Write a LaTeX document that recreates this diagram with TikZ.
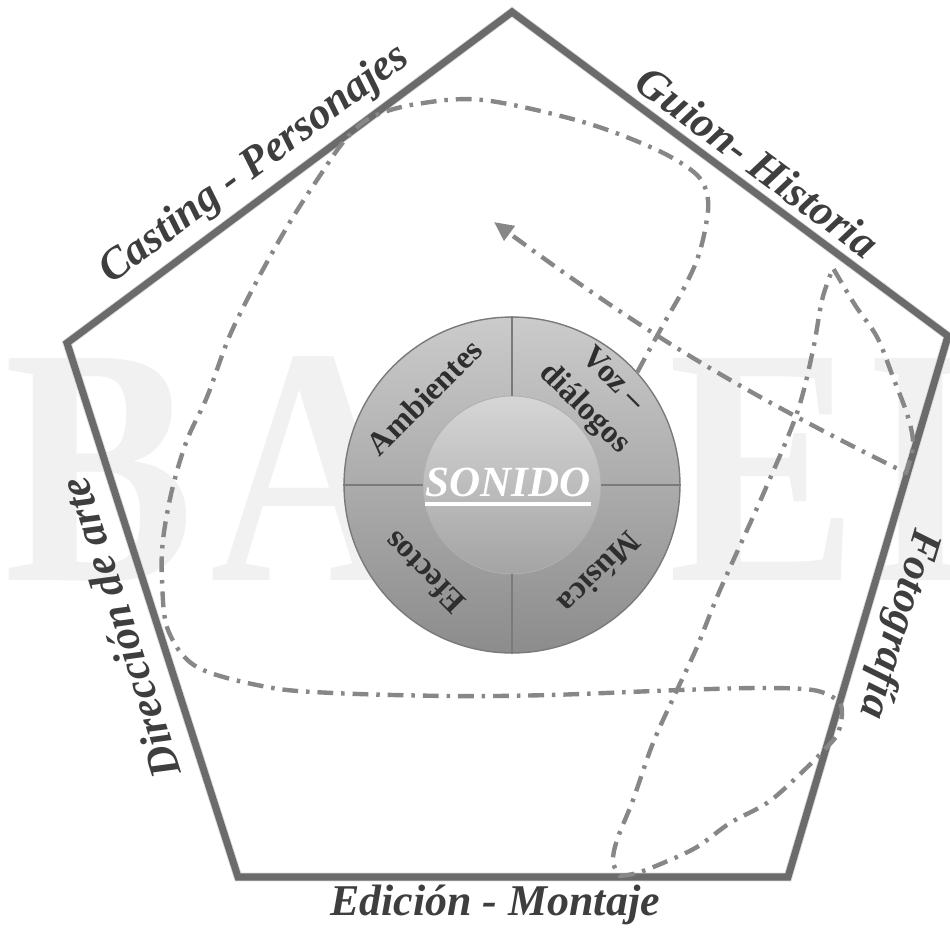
\documentclass[tikz,border=0pt]{standalone}
\usepackage{fontspec}
\setmainfont{Liberation Serif}
\usetikzlibrary{arrows.meta}
\definecolor{edgec}{HTML}{6B6B6B}
\definecolor{flowc}{HTML}{878787}
\definecolor{labelc}{HTML}{3E3E3E}
\definecolor{segc}{HTML}{2E2E2E}
\definecolor{wmc}{HTML}{F1F1F1}
\definecolor{ringtop}{HTML}{CBCBCB}
\definecolor{ringbot}{HTML}{8C8C8C}
\definecolor{coretop}{HTML}{D6D6D6}
\definecolor{corebot}{HTML}{A4A4A4}
\definecolor{divc}{HTML}{7A7A7A}
\definecolor{shadc}{HTML}{DADADA}
\begin{document}
\begin{tikzpicture}[x=0.02cm, y=-0.02cm,
  edgelabel/.style={font=\fontsize{25}{28}\selectfont\bfseries\itshape, text=labelc, inner sep=0pt},
  seglabel/.style={font=\fontsize{18.5}{23}\selectfont\bfseries, text=segc, inner sep=0pt, align=center},
  flowline/.style={draw=flowc, line width=2.5pt, line join=round, dash pattern=on 9pt off 4.5pt on 2pt off 4.5pt},
  wmark/.style={font=\fontsize{193}{200}\selectfont\bfseries, text=wmc, inner sep=0pt, anchor=base west},
  divider/.style={draw=divc, line width=0.7pt}]
\useasboundingbox (0,0) rectangle (950,930);
\begin{scope}
\clip (0,0) rectangle (950,930);
% watermark
\node[wmark] (wB) at (4,580) {\scalebox{0.84}[1]{B}};
\node[wmark] (wA) at (210,580) {\scalebox{0.84}[1]{A}};
\node[wmark] (wE) at (668,580) {\scalebox{0.84}[1]{E}};
\node[wmark] (wI) at (865,580) {\scalebox{0.84}[1]{I}};
\end{scope}
% pentagon
\coordinate (pT) at (512,12);
\coordinate (pR) at (948,336);
\coordinate (pBR) at (788,877);
\coordinate (pBL) at (238,877);
\coordinate (pL) at (67,343);
\draw[shadc, line width=5pt, line join=miter, xshift=1.5pt, yshift=-2pt] (pT) -- (pR) -- (pBR) -- (pBL) -- (pL) -- cycle;
\draw[edgec, line width=4pt, line join=miter] (pT) -- (pR) -- (pBR) -- (pBL) -- (pL) -- cycle;
% circle
\node[circle, minimum size=6.72cm, inner sep=0pt, top color=ringtop, bottom color=ringbot, draw=divc, line width=0.8pt] (outer) at (512,485) {};
\node[circle, minimum size=3.56cm, inner sep=0pt, top color=coretop, bottom color=corebot, draw=divc!60, line width=0.5pt] (inner) at (512,485) {};
\draw[divider] (outer.north) -- (inner.north);
\draw[divider] (inner.south) -- (outer.south);
\draw[divider] (outer.west) -- (inner.west);
\draw[divider] (inner.east) -- (outer.east);
% flow path
\coordinate (tip) at (494,222);
\draw[flowline, -{Triangle[length=11pt,width=10pt]}]
  plot[smooth, tension=0.55] coordinates {(outer.42) (652,345) (667,318) (683,290) (697,260) (705,230) (708,200) (697,175) (657,150) (583,122) (483,100) (417,104) (372,117) (345,140) (317,180) (290,222) (260,275) (230,335) (207,397) (187,440) (172,490) (163,540) (162,580) (168,630) (197,667) (267,687) (333,693) (450,696) (550,695) (680,690) (760,688) (813,690) (837,700) (842,712) (838,733) (827,747) (797,777) (767,803) (730,823) (697,847) (663,863) (637,873) (620,876)}
  -- plot[smooth, tension=0.55] coordinates {(620,876) (613,862) (617,840) (633,800) (653,743) (677,690) (697,647) (720,590) (765,490) (797,413) (813,350) (822,300) (833,268)}
  -- plot[smooth, tension=0.55] coordinates {(833,268) (855,305) (877,337) (893,377) (908,417) (913,445) (906,473)}
  to[bend left=5] (tip);
% segment labels
\node[seglabel, rotate=45] (amb) at (424,397) {Ambientes};
\node[seglabel, rotate=-45] (voz) at (598,395) {Voz –\\diálogos};
\node[seglabel, rotate=-135] (mus) at (600,573) {Música};
\node[seglabel, rotate=135] (efe) at (424,573) {Efectos};
% center
\node[font=\fontsize{24.5}{28}\selectfont\bfseries\itshape, text=white, inner sep=0pt] (sonido) at (508,482) {SONIDO};
\draw[white, line width=2.2pt] ([yshift=-4.5pt]sonido.base west) -- ([yshift=-4.5pt]sonido.base east);
% edge labels
\node[edgelabel, rotate=36.6] (cast) at (255,165) {Casting - Personajes};
\node[edgelabel, rotate=-36.6] (guion) at (758,162) {Guion- Historia};
\node[edgelabel, rotate=-106.5] (foto) at (898,624) {Fotografía};
\node[edgelabel] (edic) at (495,905) {Edición - Montaje};
\node[edgelabel, rotate=107.7] (dir) at (120,628) {Dirección de arte};
\end{tikzpicture}
\end{document}
